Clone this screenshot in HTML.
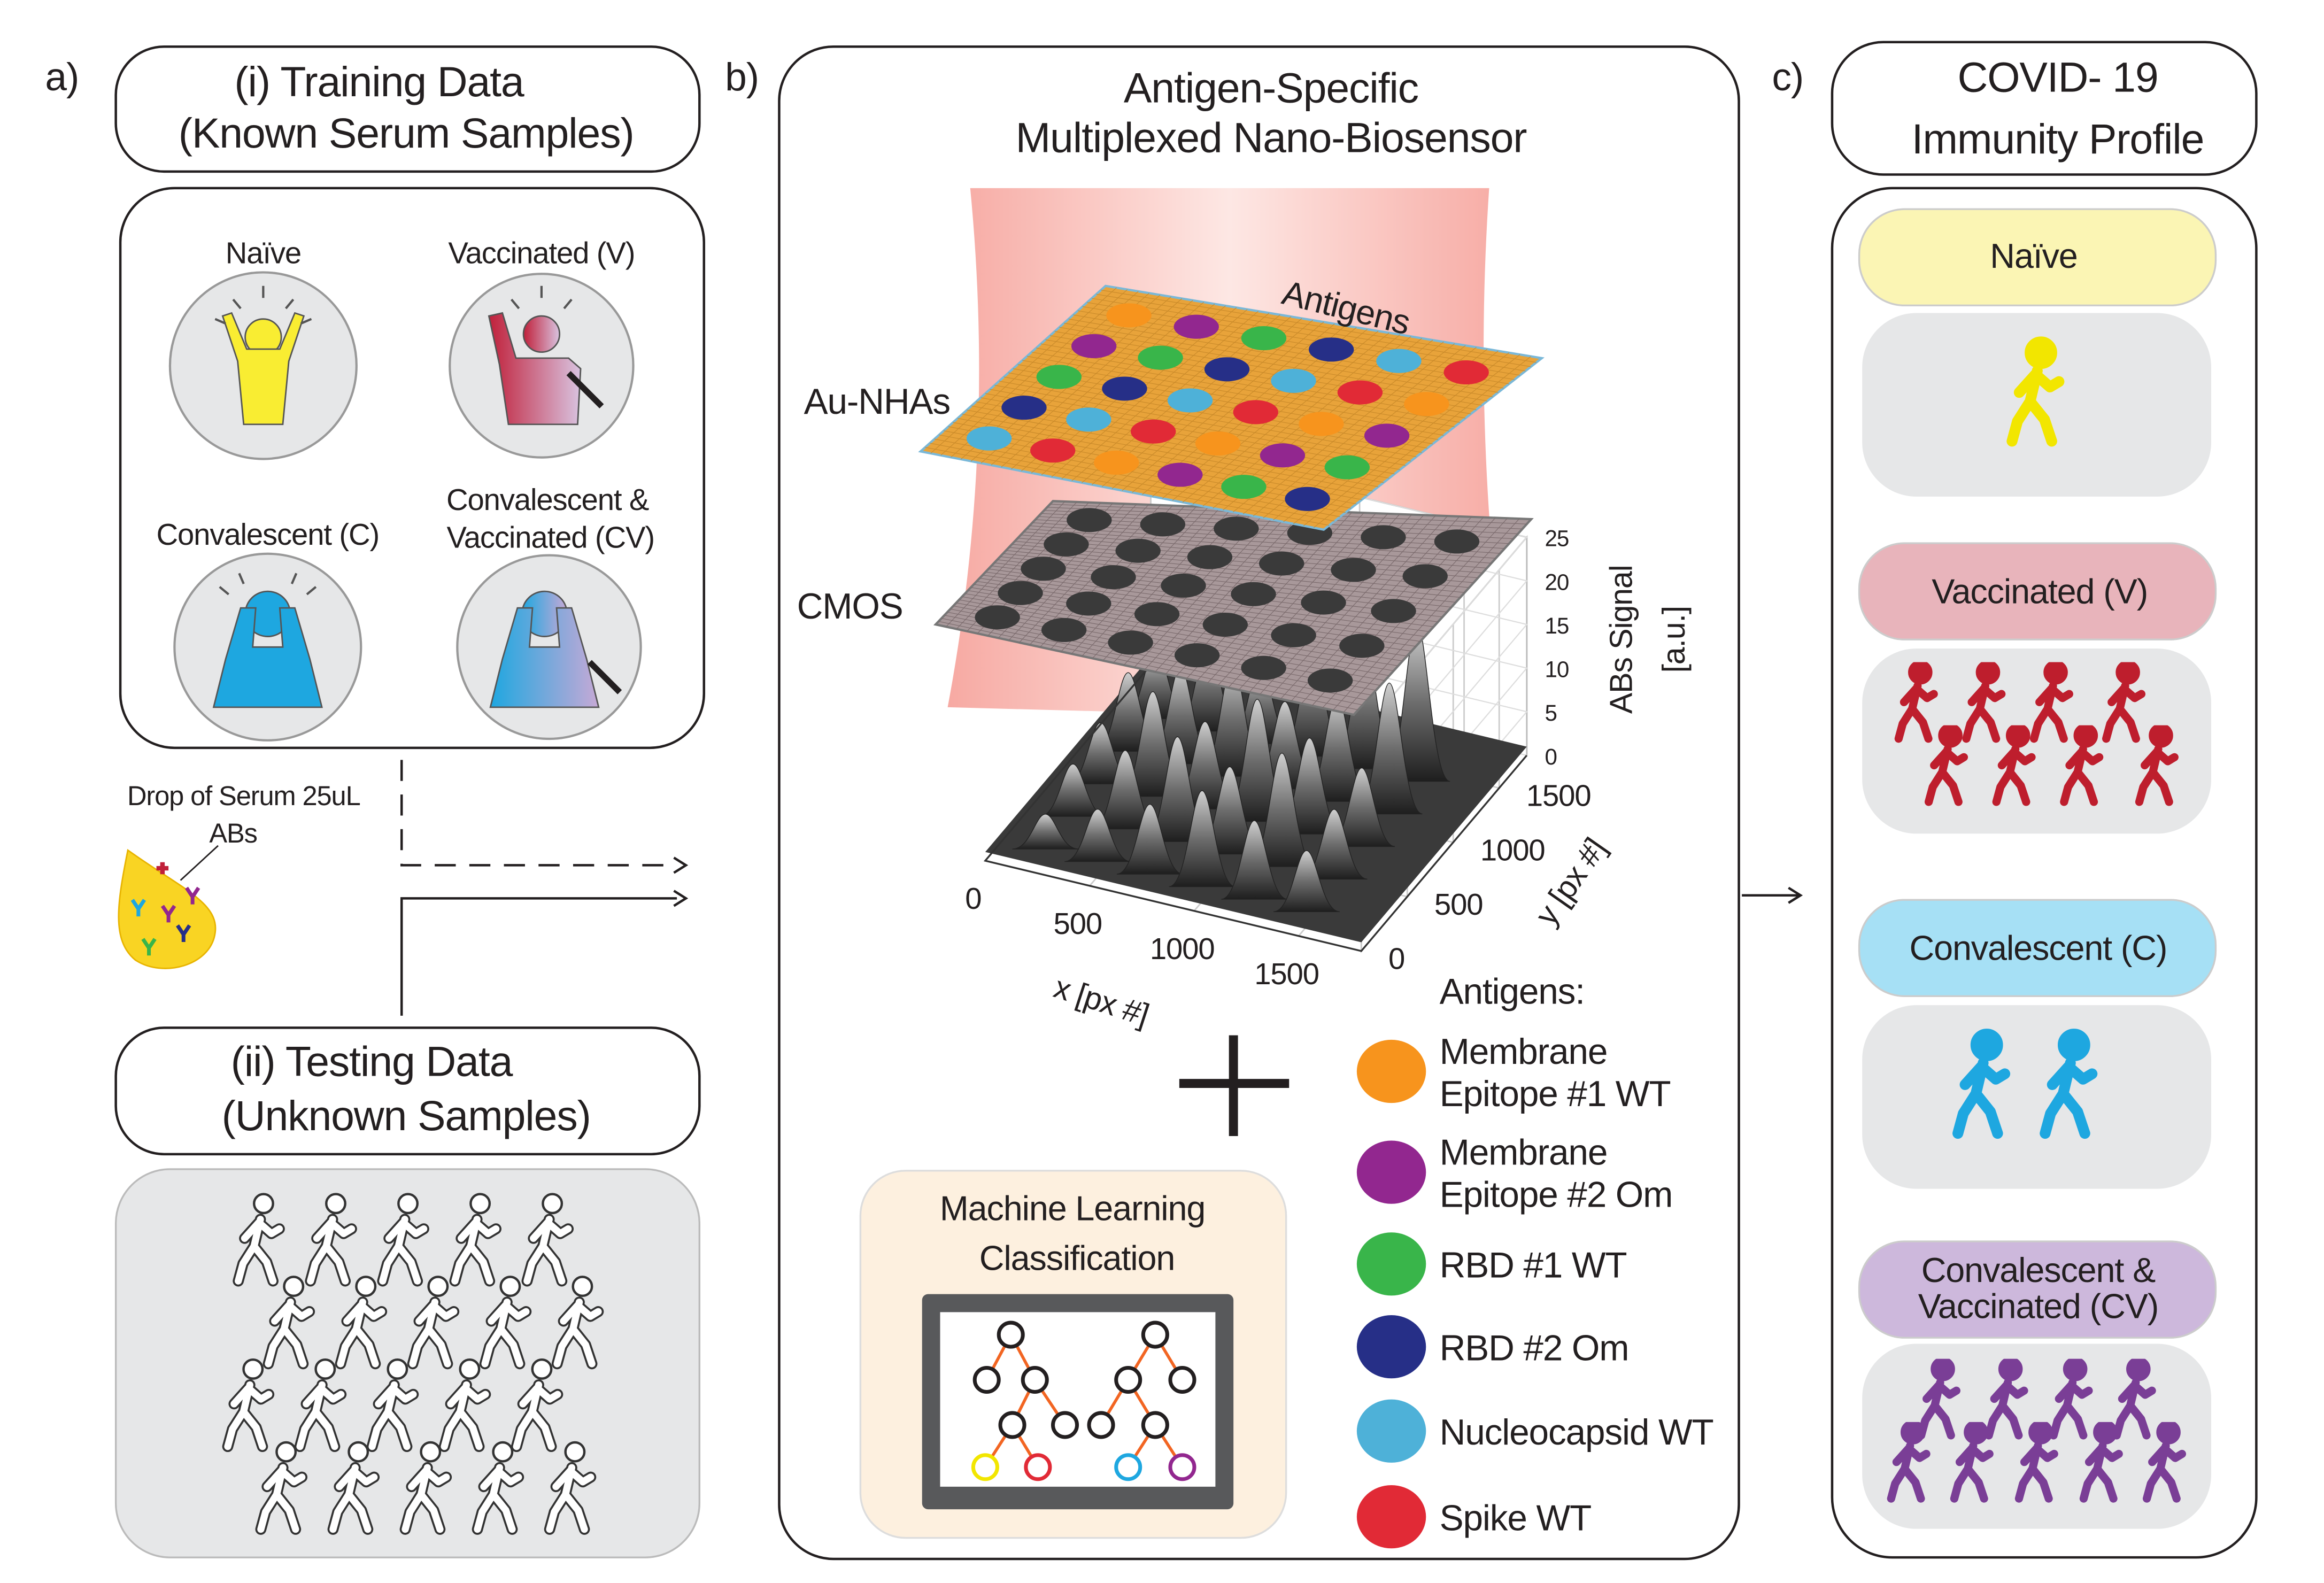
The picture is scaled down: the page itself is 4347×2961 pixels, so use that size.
<!DOCTYPE html>
<html><head><meta charset="utf-8">
<style>
html,body{margin:0;padding:0;background:#fff;}
svg{display:block;}
text{font-family:"Liberation Sans","DejaVu Sans",sans-serif;fill:#231f20;letter-spacing:-0.4px;}
</style></head>
<body>
<svg id="fig" width="4347" height="2961" viewBox="0 0 1545 1052" preserveAspectRatio="none" xmlns="http://www.w3.org/2000/svg">
<defs>
  <symbol id="walker" viewBox="0 0 40 60">
    <circle cx="24" cy="7" r="6"/>
    <path d="M22,17 L18,34 M21,19 L12,29 M21,19 L29,26 L34,23 M18,34 L11,45 L8,56 M18,34 L26,44 L30,56" fill="none" stroke-linecap="round" stroke-linejoin="round"/>
  </symbol>
  <symbol id="walker-white" viewBox="0 0 40 60">
    <circle cx="24" cy="7" r="6" fill="#fff" stroke="#333" stroke-width="1.5"/>
    <path d="M22,17 L18,34 M21,19 L12,29 M21,19 L29,26 L34,23 M18,34 L11,45 L8,56 M18,34 L26,44 L30,56" fill="none" stroke="#333" stroke-width="7" stroke-linecap="round" stroke-linejoin="round"/>
    <path d="M22,17 L18,34 M21,19 L12,29 M21,19 L29,26 L34,23 M18,34 L11,45 L8,56 M18,34 L26,44 L30,56" fill="none" stroke="#fff" stroke-width="4.5" stroke-linecap="round" stroke-linejoin="round"/>
  </symbol>
  <linearGradient id="beam" x1="0" x2="1" y1="0" y2="0">
    <stop offset="0" stop-color="#f59a92"/><stop offset="0.5" stop-color="#fde3df"/><stop offset="1" stop-color="#f59a92"/>
  </linearGradient>
  <linearGradient id="peakg" x1="0" x2="0" y1="0" y2="1">
    <stop offset="0" stop-color="#d0d0d0"/><stop offset="0.5" stop-color="#6d6d6d"/><stop offset="1" stop-color="#1e1e1e"/>
  </linearGradient>
  <linearGradient id="vgrad" x1="0" x2="1"><stop offset="0" stop-color="#c0203a"/><stop offset="1" stop-color="#d9c3e0"/></linearGradient>
  <linearGradient id="cvgrad" x1="0" x2="1"><stop offset="0" stop-color="#1ea7e0"/><stop offset="1" stop-color="#c6a9d6"/></linearGradient>
</defs>

<text x="30" y="60" font-size="26">a)</text>
<rect x="77" y="31" width="388" height="83" rx="32" fill="#fff" stroke="#231f20" stroke-width="1.6"/>
<text x="252" y="64" font-size="28" text-anchor="middle">(i) Training Data</text>
<text x="270" y="98" font-size="28" text-anchor="middle">(Known Serum Samples)</text>

<rect x="80" y="125" width="388" height="372" rx="36" fill="#fff" stroke="#231f20" stroke-width="1.6"/>
<text x="175" y="175" font-size="20" text-anchor="middle">Naïve</text>
<text x="360" y="175" font-size="20" text-anchor="middle">Vaccinated (V)</text>
<text x="178" y="362" font-size="20" text-anchor="middle">Convalescent (C)</text>
<text x="364" y="339" font-size="20" text-anchor="middle">Convalescent &amp;</text>
<text x="366" y="364" font-size="20" text-anchor="middle">Vaccinated (CV)</text>

<g>
  <circle cx="175" cy="243" r="62" fill="#e6e7e8" stroke="#999" stroke-width="1.5"/>
  <circle cx="175" cy="224" r="12" fill="#f9ed32" stroke="#555" stroke-width="1"/>
  <path d="M148,210 L158,240 L162,282 L188,282 L192,240 L202,210 L196,208 L186,232 L164,232 L154,208 Z" fill="#f9ed32" stroke="#555" stroke-width="1"/>
  <path d="M160,205 l-5,-6 M175,198 v-8 M190,205 l5,-6 M150,215 l-7,-3 M200,215 l7,-3" stroke="#555" stroke-width="1.5"/>
</g>
<g>
  <circle cx="360" cy="243" r="61" fill="#e6e7e8" stroke="#999" stroke-width="1.5"/>
  <circle cx="360" cy="222" r="12" fill="url(#vgrad)" stroke="#555" stroke-width="1"/>
  <path d="M325,210 L332,242 L338,282 L384,282 L386,245 L378,238 L343,238 L334,208 Z" fill="url(#vgrad)" stroke="#555" stroke-width="1"/>
  <path d="M378,248 L400,270" stroke="#231f20" stroke-width="4"/>
  <path d="M345,205 l-5,-6 M360,198 v-8 M375,205 l5,-6" stroke="#555" stroke-width="1.5"/>
</g>
<g>
  <circle cx="178" cy="430" r="62" fill="#e6e7e8" stroke="#999" stroke-width="1.5"/>
  <circle cx="178" cy="408" r="15" fill="#1ea7e0" stroke="#555" stroke-width="1"/>
  <path d="M142,470 L150,438 L160,404 L170,404 L168,430 L188,430 L186,404 L196,404 L206,438 L214,470 Z" fill="#1ea7e0" stroke="#555" stroke-width="1"/>
  <path d="M152,395 l-6,-5 M162,388 l-3,-7 M194,388 l3,-7 M204,395 l6,-5" stroke="#555" stroke-width="1.5"/>
</g>
<g>
  <circle cx="365" cy="430" r="61" fill="#e6e7e8" stroke="#999" stroke-width="1.5"/>
  <circle cx="362" cy="408" r="15" fill="url(#cvgrad)" stroke="#555" stroke-width="1"/>
  <path d="M326,470 L334,438 L344,404 L354,404 L352,430 L372,430 L370,404 L380,404 L390,438 L398,470 Z" fill="url(#cvgrad)" stroke="#555" stroke-width="1"/>
  <path d="M392,440 L412,460" stroke="#231f20" stroke-width="4"/>
</g>

<text x="162" y="535" font-size="18" text-anchor="middle">Drop of Serum 25uL</text>
<text x="155" y="560" font-size="18" text-anchor="middle">ABs</text>
<g>
  <path d="M85,565 C78,600 74,625 90,638 C108,650 140,642 143,620 C146,600 120,590 85,565 Z" fill="#f9d423" stroke="#e8b400" stroke-width="1"/>
  <path d="M108,573 l0,8 M104,577 l8,0" stroke="#c0203a" stroke-width="3"/>
  <path d="M88,598 l4,6 4,-6 M92,604 v5" stroke="#1ea7e0" stroke-width="2.5" fill="none"/>
  <path d="M108,602 l4,6 4,-6 M112,608 v5" stroke="#92278f" stroke-width="2.5" fill="none"/>
  <path d="M95,624 l4,6 4,-6 M99,630 v5" stroke="#39b54a" stroke-width="2.5" fill="none"/>
  <path d="M118,615 l4,6 4,-6 M122,621 v5" stroke="#262f87" stroke-width="2.5" fill="none"/>
  <path d="M124,590 l4,6 4,-6 M128,596 v5" stroke="#92278f" stroke-width="2.5" fill="none"/>
  <line x1="120" y1="585" x2="145" y2="562" stroke="#231f20" stroke-width="1"/>
</g>

<path d="M267,505 V575 H450" fill="none" stroke="#231f20" stroke-width="1.6" stroke-dasharray="14,9"/>
<path d="M448,570 L456,575 L448,580" fill="none" stroke="#231f20" stroke-width="1.6"/>
<path d="M267,675 V597 H450" fill="none" stroke="#231f20" stroke-width="1.6"/>
<path d="M448,592 L456,597 L448,602" fill="none" stroke="#231f20" stroke-width="1.6"/>

<rect x="77" y="683" width="388" height="84" rx="32" fill="#fff" stroke="#231f20" stroke-width="1.6"/>
<text x="247" y="715" font-size="28" text-anchor="middle">(ii) Testing Data</text>
<text x="270" y="751" font-size="28" text-anchor="middle">(Unknown Samples)</text>
<rect x="77" y="777" width="388" height="258" rx="36" fill="#e6e7e8" stroke="#bbb" stroke-width="1.2"/>
<g id="unknown-walkers"></g>

<text x="482" y="60" font-size="26">b)</text>
<rect x="518" y="31" width="638" height="1005" rx="36" fill="#fff" stroke="#231f20" stroke-width="1.6"/>
<text x="845" y="68" font-size="28" text-anchor="middle">Antigen-Specific</text>
<text x="845" y="101" font-size="28" text-anchor="middle">Multiplexed Nano-Biosensor</text>

<path d="M645,125 L990,125 Q978,300 1005,480 L630,470 Q662,300 645,125 Z" fill="url(#beam)" opacity="0.85"/>

<g id="surface-chart"></g>
<g id="cmos-plate"></g>
<g id="gold-plate"></g>

<text x="583" y="275" font-size="24" text-anchor="middle">Au-NHAs</text>
<text x="565" y="411" font-size="24" text-anchor="middle">CMOS</text>
<text x="893" y="212" font-size="23" text-anchor="middle" transform="rotate(14 893 212)">Antigens</text>

<path d="M820,688 V755 M784,720 H857" stroke="#231f20" stroke-width="6"/>

<text x="957" y="667" font-size="24">Antigens:</text>
<g id="legend"></g>

<rect x="572" y="778" width="283" height="244" rx="30" fill="#fdf0df" stroke="#ddd" stroke-width="1.2"/>
<text x="713" y="811" font-size="23" text-anchor="middle">Machine Learning</text>
<text x="716" y="844" font-size="23" text-anchor="middle">Classification</text>
<g>
  <rect x="613" y="860" width="207" height="143" rx="4" fill="#58595b"/>
  <rect x="625" y="872" width="183" height="116" fill="#fff"/>
  <g stroke="#f26522" stroke-width="2">
    <path d="M672,887 L656,917 M672,887 L688,917 M688,917 L673,947 M688,917 L708,947 M673,947 L655,975 M673,947 L690,975"/>
    <path d="M768,887 L750,917 M768,887 L786,917 M750,917 L732,947 M750,917 L768,947 M768,947 L750,975 M768,947 L786,975"/>
  </g>
  <g fill="#fff" stroke="#231f20" stroke-width="2.5">
    <circle cx="672" cy="887" r="8"/><circle cx="656" cy="917" r="8"/><circle cx="688" cy="917" r="8"/>
    <circle cx="673" cy="947" r="8"/><circle cx="708" cy="947" r="8"/>
    <circle cx="768" cy="887" r="8"/><circle cx="750" cy="917" r="8"/><circle cx="786" cy="917" r="8"/>
    <circle cx="732" cy="947" r="8"/><circle cx="768" cy="947" r="8"/>
  </g>
  <circle cx="655" cy="975" r="8" fill="#fff" stroke="#f2e600" stroke-width="2.5"/>
  <circle cx="690" cy="975" r="8" fill="#fff" stroke="#e12a36" stroke-width="2.5"/>
  <circle cx="750" cy="975" r="8" fill="#fff" stroke="#1ea7e0" stroke-width="2.5"/>
  <circle cx="786" cy="975" r="8" fill="#fff" stroke="#92278f" stroke-width="2.5"/>
</g>

<text x="1178" y="60" font-size="26">c)</text>
<path d="M1158,595 H1196 M1189,590 L1197,595 L1189,600" fill="none" stroke="#231f20" stroke-width="1.6"/>
<rect x="1218" y="28" width="282" height="88" rx="34" fill="#fff" stroke="#231f20" stroke-width="1.6"/>
<text x="1368" y="61" font-size="28" text-anchor="middle">COVID- 19</text>
<text x="1368" y="102" font-size="28" text-anchor="middle">Immunity Profile</text>
<rect x="1218" y="125" width="282" height="910" rx="40" fill="#fff" stroke="#231f20" stroke-width="1.6"/>

<rect x="1236" y="139" width="237" height="64" rx="30" fill="#fbf5b4" stroke="#ccc" stroke-width="1.2"/>
<text x="1352" y="178" font-size="23" text-anchor="middle">Naïve</text>
<rect x="1238" y="208" width="232" height="122" rx="36" fill="#e6e7e8"/>

<rect x="1236" y="361" width="237" height="64" rx="30" fill="#e8b4bb" stroke="#ccc" stroke-width="1.2"/>
<text x="1356" y="401" font-size="23" text-anchor="middle">Vaccinated (V)</text>
<rect x="1238" y="431" width="232" height="123" rx="36" fill="#e6e7e8"/>

<rect x="1236" y="598" width="237" height="64" rx="30" fill="#a6e0f5" stroke="#ccc" stroke-width="1.2"/>
<text x="1355" y="638" font-size="23" text-anchor="middle">Convalescent (C)</text>
<rect x="1238" y="668" width="232" height="122" rx="36" fill="#e6e7e8"/>

<rect x="1236" y="825" width="237" height="64" rx="30" fill="#cdb8dc" stroke="#ccc" stroke-width="1.2"/>
<text x="1355" y="852" font-size="23" text-anchor="middle">Convalescent &amp;</text>
<text x="1355" y="876" font-size="23" text-anchor="middle">Vaccinated (CV)</text>
<rect x="1238" y="893" width="232" height="123" rx="36" fill="#e6e7e8"/>
<g id="class-walkers"></g>
</svg>

<script>
// ---------- Data ----------
var antigenNames = [["Membrane","Epitope #1 WT"],["Membrane","Epitope #2 Om"],["RBD #1 WT"],["RBD #2 Om"],["Nucleocapsid WT"],["Spike WT"]];
var antigenColors = ["#f7941d","#92278f","#39b54a","#262f87","#4eb1d8","#e12a36"];
var xTicks = [0,500,1000,1500];
var yTicks = [0,500,1000,1500];
var zTicks = [0,5,10,15,20,25];
var peakX = [200,450,700,950,1200,1450, 200,450,700,950,1200,1450, 200,450,700,950,1200,1450, 200,450,700,950,1200,1450, 200,450,700,950,1200,1450];
var peakY = [1400,1400,1400,1400,1400,1400, 1100,1100,1100,1100,1100,1100, 800,800,800,800,800,800, 500,500,500,500,500,500, 200,200,200,200,200,200];
var peakZ = [8,10,9,12,14,18, 9,11,13,10,12,15, 7,12,10,14,11,9, 6,9,12,10,13,8, 4,6,8,11,9,7];

var NS="http://www.w3.org/2000/svg";
function mk(tag, attrs, parent){var e=document.createElementNS(NS,tag);for(var k in attrs)e.setAttribute(k,attrs[k]);parent.appendChild(e);return e;}
function pts(a){return a.map(function(p){return p[0]+','+p[1];}).join(' ');}

var O=[655,572], XV=[250,60], YV=[110,-130], ZU=145;
function proj(x,y,z){return [O[0]+XV[0]*x/1800+YV[0]*y/1800, O[1]+XV[1]*x/1800+YV[1]*y/1800 - ZU*z/25];}

try{
var sc=document.getElementById('surface-chart');
var wallB=mk('polygon',{points:pts([proj(0,1800,0),proj(1800,1800,0),proj(1800,1800,25),proj(0,1800,25)]),fill:'#fff',stroke:'#bbb','stroke-width':1},sc);


var wallR=mk('polygon',{points:pts([proj(1800,0,0),proj(1800,1800,0),proj(1800,1800,25),proj(1800,0,25)]),fill:'#fff',stroke:'#bbb','stroke-width':1},sc);


xTicks.forEach(function(t){
  var g=mk('polyline',{points:pts([proj(t,0,0),proj(t,1800,0),proj(t,1800,25)]),fill:'none',stroke:'#ccc','stroke-width':1},sc);
  
  });
yTicks.forEach(function(t){
  var g=mk('polyline',{points:pts([proj(0,t,0),proj(1800,t,0),proj(1800,t,25)]),fill:'none',stroke:'#ccc','stroke-width':1},sc);
  
  });
zTicks.forEach(function(t){
  var g=mk('polyline',{points:pts([proj(0,1800,t),proj(1800,1800,t),proj(1800,0,t)]),fill:'none',stroke:'#ddd','stroke-width':0.8},sc);
  
  });
var base=mk('polygon',{points:pts([proj(0,0,1),proj(1800,0,1),proj(1800,1800,1),proj(0,1800,1)]),fill:'#3a3a3a'},sc);


var order=peakZ.map(function(z,i){return i;}).sort(function(a,b){return (peakY[b]-peakY[a])||(peakX[a]-peakX[b]);});
order.forEach(function(i){
  var c=proj(peakX[i],peakY[i],0), top=proj(peakX[i],peakY[i],peakZ[i]);
  var w=22;
  var d='M'+(c[0]-w)+','+c[1]+' C'+(c[0]-w*0.45)+','+c[1]+' '+(top[0]-w*0.3)+','+top[1]+' '+top[0]+','+top[1]+' C'+(top[0]+w*0.3)+','+top[1]+' '+(c[0]+w*0.45)+','+c[1]+' '+(c[0]+w)+','+c[1]+' Z';
  var p=mk('path',{d:d,fill:'url(#peakg)',stroke:'#222','stroke-width':0.5},sc);
  
  
});
var fe=mk('polyline',{points:pts([proj(0,1800,0),proj(0,0,0),proj(1800,0,0),proj(1800,1800,0)]),fill:'none',stroke:'#333','stroke-width':1.2},sc);


xTicks.forEach(function(t){var p=proj(t,0,0);
  var tx=mk('text',{x:p[0]-8,y:p[1]+32,'font-size':20,'text-anchor':'middle'},sc);tx.textContent=t;
  
  });
yTicks.forEach(function(t){var p=proj(1800,t,0);
  var tx=mk('text',{x:p[0]+18,y:p[1]+12,'font-size':20,'text-anchor':'start'},sc);tx.textContent=t;
  
  });
zTicks.forEach(function(t){var p=proj(1800,1800,t);
  var tx=mk('text',{x:p[0]+12,y:p[1]+6,'font-size':15,'text-anchor':'start'},sc);tx.textContent=t;
  
  });
var xl=mk('text',{x:730,y:672,'font-size':21,'text-anchor':'middle',transform:'rotate(18 730 672)'},sc);xl.textContent='x [px #]';


var yl=mk('text',{x:1050,y:590,'font-size':21,'text-anchor':'middle',transform:'rotate(-55 1050 590)'},sc);yl.textContent='y [px #]';


var zl1=mk('text',{x:1085,y:425,'font-size':21,'text-anchor':'middle',transform:'rotate(-90 1085 425)'},sc);zl1.textContent='ABs Signal';


var zl2=mk('text',{x:1120,y:425,'font-size':21,'text-anchor':'middle',transform:'rotate(-90 1120 425)'},sc);zl2.textContent='[a.u.]';


}catch(e){}

function bil(c,u,v){
  var top=[c[0][0]+(c[1][0]-c[0][0])*u, c[0][1]+(c[1][1]-c[0][1])*u];
  var bot=[c[3][0]+(c[2][0]-c[3][0])*u, c[3][1]+(c[2][1]-c[3][1])*u];
  return [top[0]+(bot[0]-top[0])*v, top[1]+(bot[1]-top[1])*v];}
function plate(g,c,fill,edge,dotFn,gridColor,nr,nc){
  var poly=mk('polygon',{points:pts(c),fill:fill,stroke:edge,'stroke-width':1.5},g);
  
  
  for(var k=1;k<40;k++){var a=bil(c,k/40,0),b=bil(c,k/40,1),d=bil(c,0,k/40),e=bil(c,1,k/40);
    mk('line',{x1:a[0],y1:a[1],x2:b[0],y2:b[1],stroke:gridColor,'stroke-width':0.4},g);
    mk('line',{x1:d[0],y1:d[1],x2:e[0],y2:e[1],stroke:gridColor,'stroke-width':0.4},g);}
  for(var r=0;r<nr;r++)for(var q=0;q<nc;q++){
    var p=bil(c,(q+0.7)/(nc+0.4),(r+0.7)/(nr+0.4));
    var el=mk('ellipse',{cx:p[0],cy:p[1],rx:15,ry:8,fill:dotFn(r,q)},g);
    
    }
}
try{
plate(document.getElementById('cmos-plate'),[[700,333],[1018,345],[900,475],[622,415]],'#a8989a','#777',function(){return '#3a3a3a';},'#7a6a6c',5,6);
plate(document.getElementById('gold-plate'),[[735,190],[1025,238],[880,352],[612,300]],'#e8a33a','#7ab8d8',function(r,q){return antigenColors[(q+r)%6];},'#c98a2a',5,6);
}catch(e){}

try{
var lg=document.getElementById('legend');
var legY=[712,779,840,895,951,1008];
antigenNames.forEach(function(n,i){
  var el=mk('ellipse',{cx:925,cy:legY[i],rx:23,ry:21,fill:antigenColors[i]},lg);
  
  
  n.forEach(function(line,j){
    var t=mk('text',{x:957,y:legY[i]+9+(n.length===2?(j===0?-14:14):0),'font-size':24},lg);t.textContent=line;
    
    
  });
});
}catch(e){}

function walker(g,x,y,w,h,color){
  var u=mk('use',{href:color?'#walker':'#walker-white',x:x,y:y,width:w,height:h},g);
  if(color){u.setAttribute('fill',color);u.setAttribute('stroke',color);u.setAttribute('stroke-width',6);}
  
  
}
try{
var uw=document.getElementById('unknown-walkers');
[[150,790],[170,845],[143,900],[165,955]].forEach(function(r){for(var k=0;k<5;k++)walker(uw,r[0]+k*48,r[1],42,68,null);});
var cw=document.getElementById('class-walkers');
walker(cw,1328,222,48,80,'#f2e600');
[1255,1300,1345,1393].forEach(function(x){walker(cw,x,440,36,55,'#be1e2d');});
[1275,1320,1365,1415].forEach(function(x){walker(cw,x,482,36,55,'#be1e2d');});
walker(cw,1292,683,48,78,'#1ea7e0');walker(cw,1350,683,48,78,'#1ea7e0');
[1270,1315,1358,1400].forEach(function(x){walker(cw,x,903,36,55,'#7a3e96');});
[1250,1292,1335,1378,1420].forEach(function(x){walker(cw,x,945,36,55,'#7a3e96');});
}catch(e){}
</script>
</body></html>
